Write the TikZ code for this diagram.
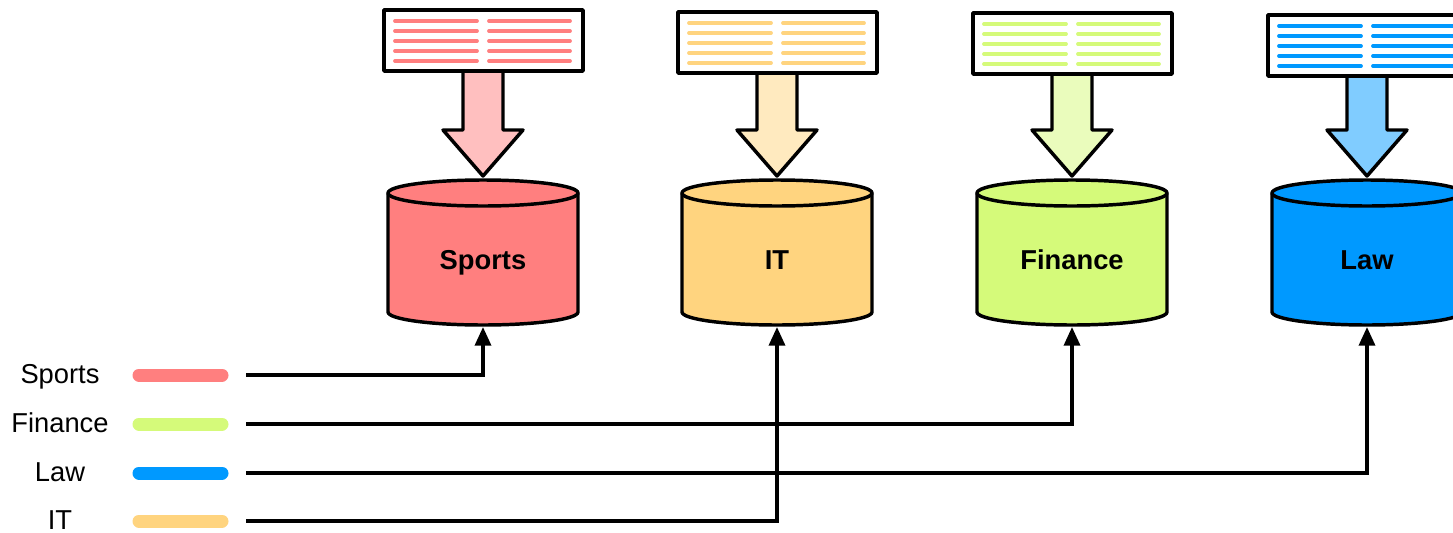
\documentclass[tikz,border=0pt]{standalone}
\usepackage{fontspec}
\setmainfont{Liberation Sans}
\usetikzlibrary{arrows.meta}
\definecolor{sportsred}{HTML}{FF7F7F}
\definecolor{itorange}{HTML}{FFD47F}
\definecolor{financegreen}{HTML}{D5FA7A}
\definecolor{lawblue}{HTML}{0099FF}
\begin{document}
\begin{tikzpicture}[x=0.75pt,y=-0.75pt,
	outline/.style={line width=2.6pt,draw=black,line join=round},
	docline/.style={line width=2.8pt,line cap=round},
	legbar/.style={line width=9.75pt,line cap=round},
	link/.style={line width=2.6pt,-{Triangle[length=14pt,width=12pt]}},
	dbname/.style={font=\bfseries\fontsize{20.5}{24}\selectfont,anchor=base},
	legname/.style={font=\fontsize{20.5}{25}\selectfont,anchor=base}]
	\clip (0,0) rectangle (1453,532);
	% documents, arrows and databases
	\foreach \cx/\ty/\col/\nm/\lab in {483/10/sportsred/S/Sports,777/12/itorange/I/IT,1072/13/financegreen/F/Finance,1367/15/lawblue/L/Law}{
		\draw [outline,fill=\col!50!white] (\cx-20,\ty+61) -- (\cx-20,130) -- (\cx-40,130) -- (\cx,176) -- (\cx+40,130) -- (\cx+20,130) -- (\cx+20,\ty+61) -- cycle;
		\draw [outline,fill=white] (\cx-99,\ty) rectangle (\cx+100,\ty+61);
		\foreach \k in {0,...,4}{
			\draw [docline,\col] (\cx-88,\ty+11+10*\k) -- (\cx-6,\ty+11+10*\k);
			\draw [docline,\col] (\cx+6,\ty+11+10*\k) -- (\cx+87,\ty+11+10*\k);
		}
		\draw [outline,fill=\col] (\cx-95,193) -- (\cx-95,312) arc (180:0:95 and 13) -- (\cx+95,193) arc (0:-180:95 and 13) -- cycle;
		\draw [outline] (\cx-95,193) arc (180:0:95 and 13);
		\node [dbname] (\nm n) at (\cx,269) {\lab};
		\coordinate (\nm) at (\cx,327);
	}
	% legend
	\node [legname] (Sl) at (60,383) {Sports};
	\node [legname] (Fl) at (60,432) {Finance};
	\node [legname] (Ll) at (60,481) {Law};
	\node [legname] (Il) at (60,529) {IT};
	\draw [legbar,sportsred] (139,375) -- (222,375);
	\draw [legbar,financegreen] (139,424) -- (222,424);
	\draw [legbar,lawblue] (139,473) -- (222,473);
	\draw [legbar,itorange] (139,521) -- (222,521);
	\coordinate (S0) at (246,375);
	\coordinate (F0) at (246,424);
	\coordinate (L0) at (246,473);
	\coordinate (I0) at (246,521);
	\draw [link] (S0) -| (S);
	\draw [link] (F0) -| (F);
	\draw [link] (L0) -| (L);
	\draw [link] (I0) -| (I);
\end{tikzpicture}
\end{document}
